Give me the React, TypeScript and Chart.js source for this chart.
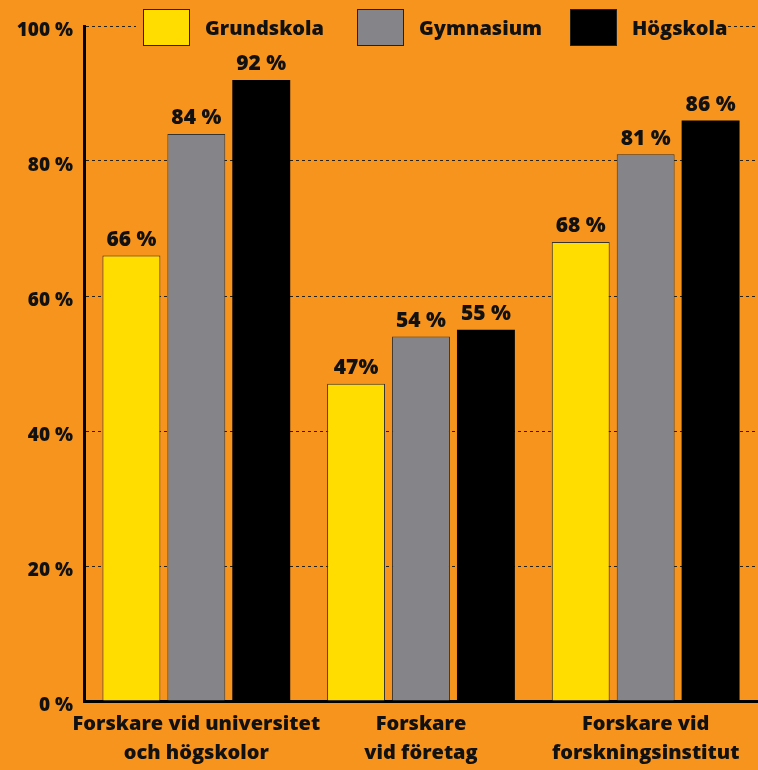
import React, { useEffect, useRef } from "react";
import { Chart, registerables } from "chart.js";

Chart.register(...registerables);

const categories: string[][] = [
  ["Forskare vid universitet", "och högskolor"],
  ["Forskare", "vid företag"],
  ["Forskare vid", "forskningsinstitut"],
];
const seriesNames = ["Grundskola", "Gymnasium", "Högskola"];
const grundskola = [66, 47, 68];
const gymnasium = [84, 54, 81];
const hogskola = [92, 55, 86];
const grundskolaLabels = ["66 %", "47%", "68 %"];
const gymnasiumLabels = ["84 %", "54 %", "81 %"];
const hogskolaLabels = ["92 %", "55 %", "86 %"];
const yTickValues = [0, 20, 40, 60, 80, 100];

const BG = "#F7941E";
const COLORS = ["#FFDD00", "#858589", "#000000"];
const FONT = "'Open Sans', 'DejaVu Sans', sans-serif";

export default function App() {
  const ref = useRef<HTMLCanvasElement | null>(null);

  useEffect(() => {
    if (!ref.current) return;
    const allLabels = [grundskolaLabels, gymnasiumLabels, hogskolaLabels];

    const valueLabelPlugin = {
      id: "valueLabels",
      afterDatasetsDraw(chart: any) {
        const ctx = chart.ctx;
        ctx.save();
        ctx.fillStyle = "#111";
        ctx.font = `800 21px ${FONT}`;
        ctx.textAlign = "center";
        ctx.textBaseline = "bottom";
        chart.data.datasets.forEach((ds: any, di: number) => {
          const meta = chart.getDatasetMeta(di);
          meta.data.forEach((bar: any, i: number) => {
            ctx.fillText(allLabels[di][i], bar.x, bar.y - 5);
          });
        });
        ctx.restore();
      },
    };

    const legendPlugin = {
      id: "customLegend",
      afterDraw(chart: any) {
        const ctx = chart.ctx;
        ctx.save();
        ctx.fillStyle = BG;
        ctx.fillRect(136, 0, 592, 52);
        const boxX = [143, 357, 570];
        seriesNames.forEach((name, i) => {
          ctx.fillStyle = COLORS[i];
          ctx.fillRect(boxX[i], 9, 47, 37);
          ctx.strokeStyle = "#222";
          ctx.lineWidth = 1;
          ctx.strokeRect(boxX[i] + 0.5, 9.5, 46, 36);
          ctx.fillStyle = "#111";
          ctx.font = `800 20px ${FONT}`;
          ctx.textAlign = "left";
          ctx.textBaseline = "middle";
          ctx.fillText(name, boxX[i] + 62, 29);
        });
        ctx.restore();
      },
    };

    const chart = new Chart(ref.current, {
      type: "bar",
      data: {
        labels: categories,
        datasets: [
          {
            label: seriesNames[0],
            data: grundskola,
            backgroundColor: COLORS[0],
            borderColor: "#333",
            borderWidth: 1,
          },
          {
            label: seriesNames[1],
            data: gymnasium,
            backgroundColor: COLORS[1],
            borderColor: "#333",
            borderWidth: 1,
          },
          {
            label: seriesNames[2],
            data: hogskola,
            backgroundColor: COLORS[2],
            borderColor: "#000",
            borderWidth: 0,
          },
        ],
      },
      options: {
        animation: false,
        responsive: false,
        devicePixelRatio: 1,
        layout: { padding: { top: 26, right: 0, left: 0, bottom: 0 } },
        datasets: {
          bar: { categoryPercentage: 0.867, barPercentage: 0.892 },
        },
        plugins: {
          legend: { display: false },
          tooltip: { enabled: false },
        },
        scales: {
          x: {
            grid: { display: false, drawTicks: false },
            border: { display: true, color: "#000", width: 3 },
            ticks: {
              color: "#111",
              font: { family: FONT, size: 20, weight: "800", lineHeight: 1.45 },
              padding: 9,
              maxRotation: 0,
              autoSkip: false,
            },
            afterFit(scale: any) {
              scale.height = 69;
            },
          },
          y: {
            min: 0,
            max: 100,
            afterBuildTicks(scale: any) {
              scale.ticks = yTickValues.map((v) => ({ value: v }));
            },
            grid: {
              color: "#2a2010",
              lineWidth: 1,
              drawTicks: false,
            },
            border: { display: true, color: "#000", width: 3, dash: [3, 3] },
            ticks: {
              color: "#111",
              font: { family: FONT, size: 19, weight: "800" },
              padding: 11,
              labelOffset: 5,
              callback: (v: any) => `${v} %`,
            },
            afterFit(scale: any) {
              scale.width = 84;
            },
          },
        },
      },
      plugins: [
        {
          id: "bgFill",
          beforeDraw(chart: any) {
            const ctx = chart.ctx;
            ctx.save();
            ctx.fillStyle = BG;
            ctx.fillRect(0, 0, chart.width, chart.height);
            ctx.restore();
          },
        },
        valueLabelPlugin,
        legendPlugin,
      ],
    } as any);

    return () => chart.destroy();
  }, []);

  return (
    <div
      style={{
        position: "fixed",
        left: 0,
        top: 0,
        width: 758,
        height: 770,
        background: BG,
        overflow: "hidden",
      }}
    >
      <canvas ref={ref} width={758} height={770} style={{ display: "block" }} />
    </div>
  );
}
